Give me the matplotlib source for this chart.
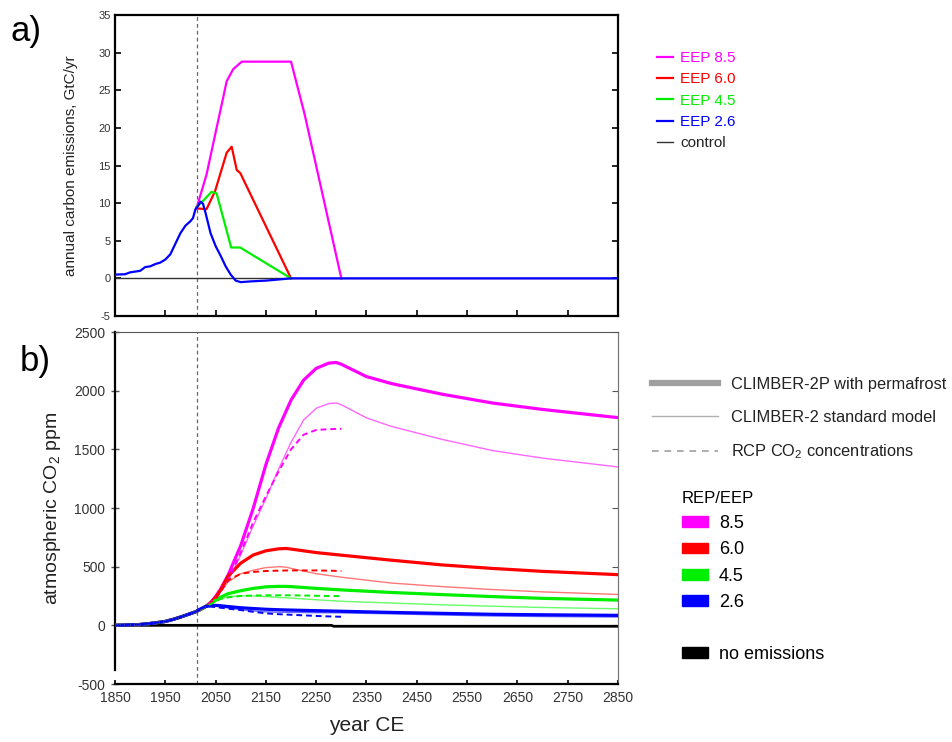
import matplotlib
matplotlib.use("Agg")
import matplotlib.pyplot as plt
from matplotlib.lines import Line2D
from matplotlib.patches import Patch

plt.rcParams['font.family'] = ['Liberation Sans', 'DejaVu Sans']
plt.rcParams['mathtext.fontset'] = 'custom'
plt.rcParams['mathtext.rm'] = 'Liberation Sans'
plt.rcParams['mathtext.default'] = 'regular'
plt.rcParams['axes.unicode_minus'] = False

# ---- panel a: annual emissions (GtC/yr) ----
em26_years = [1850, 1870, 1880, 1890, 1900, 1910, 1920, 1930, 1940, 1950, 1960, 1970,
              1980, 1990, 2000, 2005, 2010, 2015, 2020, 2025, 2030, 2040, 2050, 2060,
              2070, 2080, 2090, 2100, 2120, 2150, 2200, 2850]
em26 = [0.5, 0.55, 0.8, 0.9, 1.0, 1.5, 1.6, 1.9, 2.1, 2.5, 3.2, 4.6,
        6.0, 7.0, 7.6, 8.0, 9.2, 9.6, 10.2, 9.9, 8.7, 6.0, 4.3, 3.0,
        1.6, 0.5, -0.3, -0.5, -0.4, -0.3, 0.0, 0.0]
em45_years = [2012, 2025, 2042, 2052, 2081, 2099, 2200]
em45 = [9.5, 10.3, 11.5, 11.3, 4.1, 4.1, 0.0]
em60_years = [2012, 2032, 2049, 2072, 2082, 2092, 2099, 2200]
em60 = [9.3, 9.2, 11.6, 16.7, 17.5, 14.4, 14.0, 0.0]
em85_years = [2012, 2032, 2052, 2065, 2072, 2085, 2102, 2200, 2227, 2300]
em85 = [9.3, 13.8, 20.0, 24.0, 26.2, 27.8, 28.8, 28.8, 21.8, 0.0]
ctrl_years = [1850, 2850]
ctrl = [0.0, 0.0]

# ---- panel b: atmospheric CO2 anomaly (ppm) ----
hist_years = [1850, 1875, 1900, 1925, 1950, 1965, 1980, 1990, 2000, 2010]
hist_co2 = [0, 3, 7, 18, 33, 50, 70, 85, 100, 115]

fut_years = [2020, 2030, 2040, 2050, 2060, 2075, 2100, 2125, 2150, 2175, 2200,
             2225, 2250, 2275, 2290, 2300, 2350, 2400, 2500, 2600, 2700, 2850]
p85_perma = [135, 160, 195, 245, 310, 430, 680, 1000, 1370, 1680, 1920,
             2090, 2190, 2235, 2240, 2225, 2120, 2060, 1970, 1895, 1840, 1770]
p85_std = [135, 160, 190, 230, 285, 380, 600, 850, 1080, 1330, 1560,
           1750, 1850, 1890, 1895, 1880, 1768, 1695, 1585, 1490, 1425, 1350]

fut2_years = [2020, 2030, 2040, 2050, 2060, 2075, 2100, 2125, 2150, 2175, 2190,
              2200, 2250, 2300, 2400, 2500, 2600, 2700, 2850]
p60_perma = [135, 160, 190, 240, 300, 420, 530, 600, 635, 652, 655,
             650, 620, 598, 555, 515, 485, 460, 432]
p60_std = [135, 158, 185, 225, 290, 370, 440, 470, 492, 500, 496,
           485, 440, 410, 360, 330, 305, 285, 263]
p45_perma = [135, 158, 182, 215, 240, 270, 295, 315, 328, 332, 332,
             330, 315, 302, 280, 262, 245, 230, 215]
p45_std = [135, 158, 180, 205, 225, 245, 252, 250, 245, 238, 235,
           232, 218, 205, 190, 175, 163, 152, 141]
p26_perma = [140, 160, 168, 170, 167, 160, 150, 143, 137, 133, 131,
             130, 125, 120, 110, 102, 94, 90, 85]
p26_std = [140, 158, 165, 163, 158, 148, 133, 123, 115, 112, 111,
           110, 108, 106, 98, 88, 80, 75, 71]

rcp_years = [2020, 2030, 2040, 2050, 2060, 2075, 2100, 2125, 2150, 2175, 2200,
             2225, 2250, 2275, 2300]
rcp85 = [135, 160, 190, 230, 285, 385, 620, 880, 1100, 1310, 1500,
         1625, 1665, 1672, 1675]
rcp60 = [135, 158, 185, 225, 290, 385, 440, 455, 463, 466, 468,
         468, 468, 466, 463]
rcp45 = [135, 158, 180, 205, 225, 238, 250, 254, 256, 256, 256,
         254, 252, 250, 249]
rcp26 = [140, 158, 160, 155, 150, 142, 130, 115, 102, 95, 90,
         85, 80, 76, 73]

noem_years = [1850, 2280, 2285, 2850]
noem = [0, 0, -8, -8]

ref_year = 2013

colors = {'8.5': '#ff00ff', '6.0': '#ff0000', '4.5': '#00ee00', '2.6': '#0000ff'}
light = {'8.5': '#ff66ff', '6.0': '#ff7777', '4.5': '#66ff66', '2.6': '#6a6aff'}

fig = plt.figure(figsize=(9.52, 7.42), dpi=100)
W, H = 952.0, 742.0
ax1 = fig.add_axes([115 / W, 1 - 316 / H, 503 / W, 301 / H])
ax2 = fig.add_axes([115 / W, 1 - 684 / H, 503 / W, 352 / H])

# panel a
ax1.plot(ctrl_years, ctrl, color='#333333', lw=1.0, label='control', zorder=2)
ax1.plot(em85_years, em85, color=colors['8.5'], lw=1.6, label='EEP 8.5', zorder=3)
ax1.plot(em60_years, em60, color=colors['6.0'], lw=1.6, label='EEP 6.0', zorder=3)
ax1.plot(em45_years, em45, color=colors['4.5'], lw=1.6, label='EEP 4.5', zorder=3)
ax1.plot(em26_years, em26, color=colors['2.6'], lw=1.6, label='EEP 2.6', zorder=4)
ax1.axvline(ref_year, color='#666666', lw=0.9, ls=(0, (3, 2.5)), zorder=1)
ax1.set_xlim(1850, 2850)
ax1.set_ylim(-5, 35)
ax1.set_xticks(range(1850, 2851, 100))
ax1.set_xticklabels([])
ax1.set_yticks(range(-5, 36, 5))
ax1.tick_params(direction='in', length=4, width=1.2, right=True, labelsize=8,
                labelcolor='#333333', pad=3)
for s in ax1.spines.values():
    s.set_linewidth(1.6)
ax1.set_ylabel('annual carbon emissions, GtC/yr', fontsize=11, labelpad=15, color='#222222')

h, l = ax1.get_legend_handles_labels()
order = [1, 2, 3, 4, 0]
leg1 = ax1.legend([h[i] for i in order], [l[i] for i in order], loc='upper left',
                  bbox_to_anchor=(657 / W, 1 - 51 / H), bbox_transform=fig.transFigure,
                  frameon=False, fontsize=11, handlelength=1.05, handletextpad=0.45,
                  labelspacing=0.48, borderpad=0, borderaxespad=0)
for txt, c in zip(leg1.get_texts(), [colors['8.5'], colors['6.0'], colors['4.5'],
                                     colors['2.6'], '#222222']):
    txt.set_color(c)

# panel b
ax2.plot(noem_years, noem, color='black', lw=2.0, zorder=2)
series = [('8.5', p85_perma, p85_std, rcp85, fut_years),
          ('6.0', p60_perma, p60_std, rcp60, fut2_years),
          ('4.5', p45_perma, p45_std, rcp45, fut2_years),
          ('2.6', p26_perma, p26_std, rcp26, fut2_years)]
for key, perma, std, rcp, yrs in series:
    ax2.plot(hist_years + yrs, hist_co2 + perma, color=colors[key], lw=2.3, zorder=4)
    ax2.plot(hist_years + yrs, hist_co2 + std, color=light[key], lw=1.0, zorder=3)
    ax2.plot(hist_years + rcp_years, hist_co2 + rcp, color=colors[key], lw=1.4,
             ls=(0, (3, 2)), zorder=5)
ax2.axvline(ref_year, color='#666666', lw=0.9, ls=(0, (3, 2.5)), zorder=1)
ax2.set_xlim(1850, 2850)
ax2.set_ylim(-500, 2500)
ax2.set_xticks(range(1850, 2851, 100))
ax2.set_yticks(range(-500, 2501, 500))
ax2.tick_params(axis='x', direction='in', length=3, width=1.2, labelsize=10,
                labelcolor='#333333', pad=5)
ax2.tick_params(axis='y', direction='inout', length=6, width=1.0, color='#555555',
                labelsize=10, labelcolor='#333333', pad=4)
ax2.spines['left'].set_linewidth(1.6)
ax2.spines['left'].set_bounds(-380, 2500)
ax2.spines['bottom'].set_linewidth(1.6)
ax2.spines['right'].set_color('#777777')
ax2.spines['top'].set_color('#555555')
right = ax2.secondary_yaxis('right')
right.set_yticks(range(-500, 2501, 500))
right.tick_params(direction='in', length=4, color='#555555', labelright=False)
right.spines['right'].set_color('#777777')
ax2.set_ylabel('atmospheric CO$_2$ ppm', fontsize=14, labelpad=8, color='#222222')
ax2.set_xlabel('year CE', fontsize=15, labelpad=8, color='#222222')

style_handles = [Line2D([], [], color='#a0a0a0', lw=4.5),
                 Line2D([], [], color='#b0b0b0', lw=1.0),
                 Line2D([], [], color='#a0a0a0', lw=1.2, ls=(0, (4, 3.5)))]
style_labels = ['CLIMBER-2P with permafrost', 'CLIMBER-2 standard model',
                'RCP CO$_2$ concentrations']
leg2 = fig.legend(style_handles, style_labels, loc='upper left',
                  bbox_to_anchor=(652 / W, 1 - 377 / H), frameon=False, fontsize=11.8,
                  handlelength=4.0, handletextpad=0.8, labelspacing=1.08,
                  borderpad=0, borderaxespad=0)
for txt in leg2.get_texts():
    txt.set_color('#222222')

col_handles = [Patch(color=colors[k]) for k in ['8.5', '6.0', '4.5', '2.6']]
col_handles += [Patch(color='none'), Patch(color='black')]
col_labels = ['8.5', '6.0', '4.5', '2.6', '', 'no emissions']
leg3 = fig.legend(col_handles, col_labels, loc='upper left',
                  bbox_to_anchor=(682 / W, 1 - 491 / H), frameon=False, fontsize=13,
                  title='REP/EEP', title_fontsize=12, alignment='left',
                  handlelength=1.45, handleheight=0.55, handletextpad=0.6,
                  labelspacing=0.51, borderpad=0, borderaxespad=0)

fig.text(11 / W, 1 - 31 / H, 'a)', fontsize=25, va='center', ha='left')
fig.text(20 / W, 1 - 362 / H, 'b)', fontsize=25, va='center', ha='left')

fig.savefig('out.png', dpi=100, facecolor='white')
